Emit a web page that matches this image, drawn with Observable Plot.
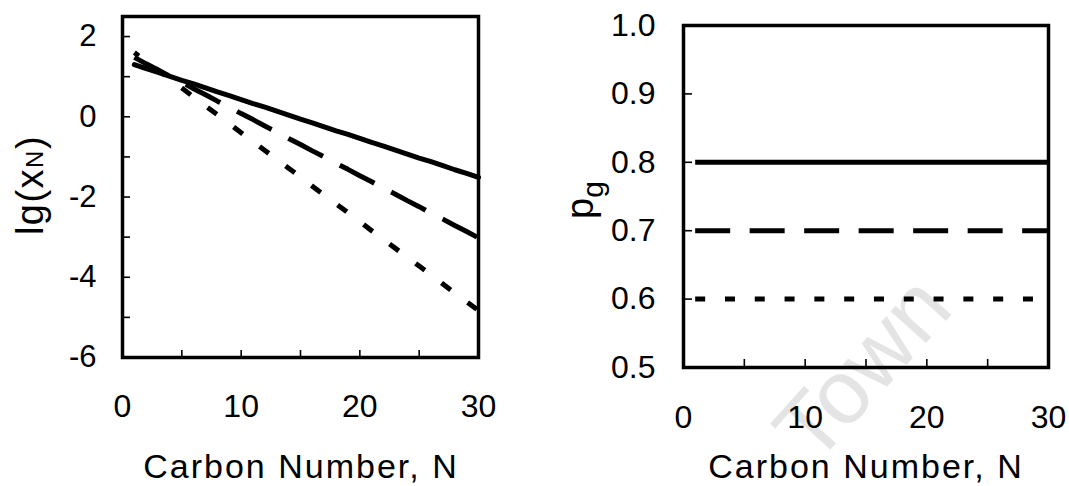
<!DOCTYPE html>
<html>
<head>
<meta charset="utf-8">
<script src="https://cdn.jsdelivr.net/npm/d3@7"></script>
<script src="https://cdn.jsdelivr.net/npm/@observablehq/plot@0.6"></script>
<style>
  html, body { margin: 0; padding: 0; background: #fff; }
  #wrap { position: relative; width: 1069px; height: 486px; overflow: hidden; background: #fff;
          font-family: "Liberation Sans", Arial, Helvetica, sans-serif; }
  #left { position: absolute; left: 0; top: 0; }
  #right { position: absolute; left: 535px; top: 0; }
</style>
</head>
<body>
<div id="wrap">
  <div id="left"></div>
  <div id="right"></div>
</div>
<script>
// ---- data ----
const carbonNumber = [1,2,3,4,5,6,7,8,9,10,11,12,13,14,15,16,17,18,19,20,21,22,23,24,25,26,27,28,29,30];
// lg(xN) for the three chain-growth probabilities
const lgX_08 = [1.30,1.20,1.11,1.01,0.91,0.82,0.72,0.62,0.53,0.43,0.33,0.24,0.14,0.04,-0.06,-0.15,-0.25,-0.35,-0.44,-0.54,-0.64,-0.73,-0.83,-0.93,-1.03,-1.12,-1.22,-1.32,-1.41,-1.51];
const lgX_07 = [1.48,1.32,1.17,1.01,0.86,0.70,0.55,0.39,0.24,0.08,-0.07,-0.23,-0.38,-0.54,-0.69,-0.85,-1.00,-1.16,-1.31,-1.47,-1.62,-1.78,-1.93,-2.09,-2.24,-2.40,-2.55,-2.71,-2.86,-3.02];
const lgX_06 = [1.60,1.38,1.16,0.94,0.72,0.49,0.27,0.05,-0.17,-0.40,-0.62,-0.84,-1.06,-1.28,-1.50,-1.73,-1.95,-2.17,-2.39,-2.61,-2.84,-3.06,-3.28,-3.50,-3.72,-3.94,-4.17,-4.39,-4.61,-4.83];
// pg (constant over N)
const pgLevels = [0.8, 0.7, 0.6];

// ---- tick labels ----
const xTickLabels = [0, 10, 20, 30];
const xTickMarks = [5, 10, 15, 20, 25];
const yTickLabelsLeft = [-6, -4, -2, 0, 2];
const yTickMarksLeft = [-5, -4, -3, -2, -1, 0, 1, 2];
const yTickLabelsRight = [0.5, 0.6, 0.7, 0.8, 0.9, 1.0];
const yTickMarksRight = [0.6, 0.7, 0.8, 0.9];

const FONT = '"Liberation Sans", Arial, Helvetica, sans-serif';
const baseStyle = { fontFamily: FONT, background: "transparent", overflow: "visible", color: "black" };
const LW = 5;
const plainInt = (d) => String(d);          // hyphen-minus as in the reference
const oneDec = (d) => d.toFixed(1);

const leftPlot = Plot.plot({
  width: 534, height: 486,
  marginLeft: 122, marginRight: 56, marginTop: 16, marginBottom: 129,
  style: baseStyle,
  x: { domain: [0, 30], axis: null },
  y: { domain: [-6, 2.5], axis: null },
  marks: [
    Plot.lineY(lgX_08, { x: carbonNumber, stroke: "black", strokeWidth: LW }),
    Plot.lineY(lgX_07, { x: carbonNumber, stroke: "black", strokeWidth: LW, strokeDasharray: "39,19", strokeLinecap: "butt" }),
    Plot.lineY(lgX_06, { x: carbonNumber, stroke: "black", strokeWidth: LW, strokeDasharray: "11.5,21", strokeDashoffset: 6, strokeLinecap: "butt" }),
    Plot.axisX({ ticks: xTickMarks, tickSize: -7, strokeWidth: 1.6, fill: "none", label: null }),
    Plot.axisX({ ticks: xTickLabels, tickSize: 0, tickPadding: 37, fontSize: 32, tickFormat: plainInt, label: null }),
    Plot.axisY({ ticks: yTickMarksLeft, tickSize: -8, strokeWidth: 1.6, fill: "none", label: null }),
    Plot.axisY({ ticks: yTickLabelsLeft, tickSize: 0, tickPadding: 26, fontSize: 31, tickFormat: plainInt, label: null }),
    Plot.frame({ stroke: "black", strokeWidth: 3.5 })
  ]
});

const rightPlot = Plot.plot({
  width: 534, height: 486,
  marginLeft: 148, marginRight: 21, marginTop: 25, marginBottom: 119,
  style: baseStyle,
  x: { domain: [0, 30], axis: null },
  y: { domain: [0.5, 1.0], axis: null },
  marks: [
    Plot.ruleY([pgLevels[0]], { x1: carbonNumber[0], x2: carbonNumber[carbonNumber.length - 1], stroke: "black", strokeWidth: LW }),
    Plot.ruleY([pgLevels[1]], { x1: carbonNumber[0], x2: carbonNumber[carbonNumber.length - 1], stroke: "black", strokeWidth: LW, strokeDasharray: "35,19.5", strokeLinecap: "butt" }),
    Plot.ruleY([pgLevels[2]], { x1: carbonNumber[0], x2: carbonNumber[carbonNumber.length - 1], stroke: "black", strokeWidth: LW, strokeDasharray: "10,19.8", strokeLinecap: "butt" }),
    Plot.axisX({ ticks: xTickMarks, tickSize: -8, strokeWidth: 1.6, fill: "none", label: null }),
    Plot.axisX({ ticks: xTickLabels, tickSize: 0, tickPadding: 38, fontSize: 32, tickFormat: plainInt, label: null }),
    Plot.axisY({ ticks: yTickMarksRight, tickSize: -9, strokeWidth: 1.6, fill: "none", label: null }),
    Plot.axisY({ ticks: yTickLabelsRight, tickSize: 0, tickPadding: 28, fontSize: 32, tickFormat: oneDec, label: null }),
    Plot.frame({ stroke: "black", strokeWidth: 3.5 })
  ]
});

document.getElementById("left").appendChild(leftPlot);
document.getElementById("right").appendChild(rightPlot);

// faint watermark behind the right panel (as in the scanned source)
d3.select(rightPlot).insert("text", ":first-child")
  .attr("transform", "translate(327,368) rotate(-48)")
  .attr("text-anchor", "middle")
  .attr("dominant-baseline", "central")
  .attr("font-family", FONT).attr("font-size", 90)
  .attr("fill", "#e4e4e4")
  .text("Town");

// ---- axis titles ----
function xTitle(svg, cx) {
  d3.select(svg).append("text")
    .attr("x", cx).attr("y", 478)
    .attr("text-anchor", "middle")
    .attr("font-family", FONT).attr("font-size", 34)
    .attr("letter-spacing", 2)
    .attr("fill", "black")
    .text("Carbon Number, N");
}
xTitle(leftPlot, 301);
xTitle(rightPlot, 331);

// lg(xN)
const ly = d3.select(leftPlot).append("text")
  .attr("transform", "translate(43,185) rotate(-90)")
  .attr("text-anchor", "middle")
  .attr("font-family", FONT).attr("font-size", 38)
  .attr("letter-spacing", 1.5)
  .attr("fill", "black");
ly.append("tspan").text("lg(x");
ly.append("tspan").attr("font-size", 24).text("N");
ly.append("tspan").text(")");

// pg
const ry = d3.select(rightPlot).append("text")
  .attr("transform", "translate(58,200) rotate(-90)")
  .attr("text-anchor", "middle")
  .attr("font-family", FONT).attr("font-size", 38)
  .attr("fill", "black");
ry.append("tspan").text("p");
ry.append("tspan").attr("font-size", 30).attr("dy", 10).text("g");
</script>
</body>
</html>
